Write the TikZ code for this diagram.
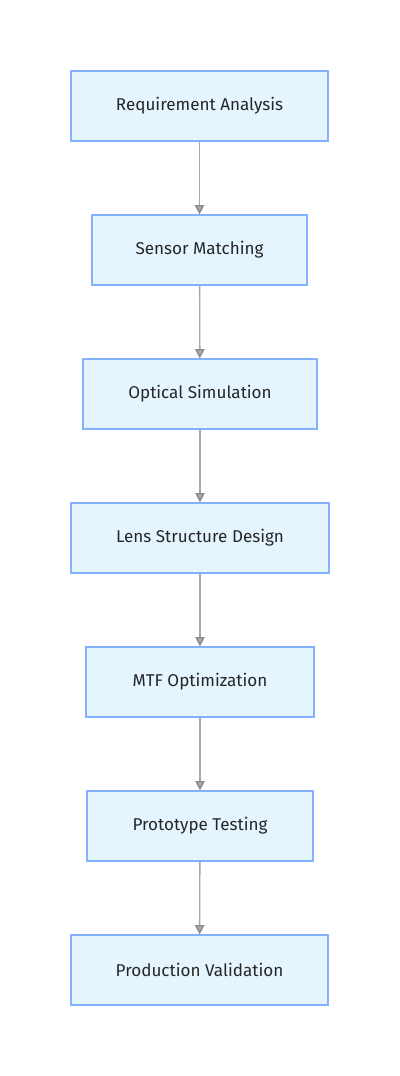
\documentclass[tikz,border=0pt]{standalone}
\usepackage{fontspec}
\setmainfont{Fira Sans}
\usetikzlibrary{arrows.meta}
\definecolor{boxfill}{HTML}{E5F5FF}
\definecolor{boxline}{HTML}{82B1FF}
\definecolor{arrowc}{HTML}{A8A8A8}
\definecolor{tipline}{HTML}{8A8A8A}
\tikzset{
  stepbox/.style={draw=boxline, fill=boxfill, line width=0.9pt, minimum height=52.5pt, inner sep=0pt, font=\fontsize{12.8}{15}\selectfont, text=black!85},
  flow/.style={draw=arrowc, line width=1pt, -{Triangle[length=7pt,width=7pt,fill=arrowc,color=tipline]}}
}
\begin{document}
\begin{tikzpicture}[x=0.75pt,y=-0.75pt]
\useasboundingbox (0,0) rectangle (400,1076);
\node[stepbox, minimum width=192.75pt] (a) at (199.5,106) {Requirement Analysis};
\node[stepbox, minimum width=161.25pt] (b) at (199.5,250) {Sensor Matching};
\node[stepbox, minimum width=175.5pt] (c) at (200,394) {Optical Simulation};
\node[stepbox, minimum width=193.5pt] (d) at (200,538) {Lens Structure Design};
\node[stepbox, minimum width=171pt] (e) at (200,682) {MTF Optimization};
\node[stepbox, minimum width=169.5pt] (f) at (200,826) {Prototype Testing};
\node[stepbox, minimum width=192.75pt] (g) at (199.5,970) {Production Validation};
\draw[flow] (a) -- (b);
\draw[flow] (b) -- (c);
\draw[flow] (c) -- (d);
\draw[flow] (d) -- (e);
\draw[flow] (e) -- (f);
\draw[flow] (f) -- (g);
\end{tikzpicture}
\end{document}
